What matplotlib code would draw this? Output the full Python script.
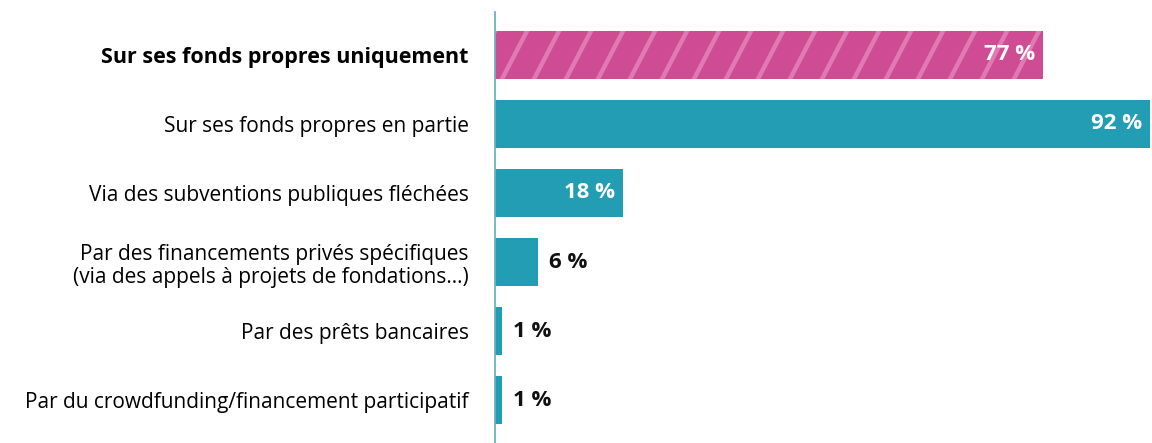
import numpy as np
import matplotlib.pyplot as plt
from matplotlib.lines import Line2D
from matplotlib.transforms import IdentityTransform

categories = [
    "Sur ses fonds propres uniquement",
    "Sur ses fonds propres en partie",
    "Via des subventions publiques fléchées",
    "Par des financements privés spécifiques\n(via des appels à projets de fondations…)",
    "Par des prêts bancaires",
    "Par du crowdfunding/financement participatif",
]
valeurs = [77, 92, 18, 6, 1, 1]

rose = "#cf4b93"
rose_clair = "#df7ab3"
bleu = "#229db3"

plt.rcParams['font.family'] = ['Open Sans', 'DejaVu Sans']

fig = plt.figure(figsize=(11.52, 4.43), dpi=100)
ax = fig.add_axes([495 / 1152, 0, 655 / 1152, 431 / 443])

y = np.arange(len(categories))
couleurs = [rose] + [bleu] * (len(categories) - 1)
barres = ax.barh(y, valeurs, height=0.7, color=couleurs, zorder=2)

ax.set_xlim(0, 92)
ax.set_ylim(len(categories) - 0.38, -0.62)

# hachures obliques sur la première barre
fig.canvas.draw()
b = barres[0]
(x0, y0), (x1, y1) = ax.transData.transform([(b.get_x(), b.get_y() + b.get_height()),
                                              (b.get_x() + b.get_width(), b.get_y())])
h = y1 - y0
for xs in np.arange(x0 + 15 - 40, x1 + 40, 32):
    ln = Line2D([xs, xs + 25 * h / 48], [y0, y1], color=rose_clair, lw=3.2, zorder=3)
    ln.set_transform(IdentityTransform())
    ax.add_line(ln)
    ln.set_clip_path(b.get_path(), b.get_transform())

# étiquettes de valeurs
for i, v in enumerate(valeurs):
    txt = f"{v} %"
    if v >= 15:
        ax.annotate(txt, (v, i), xytext=(-6, 0), textcoords='offset points',
                    ha='right', va='center', color='white',
                    fontsize=16, fontweight='bold', zorder=4)
    else:
        ax.annotate(txt, (v, i), xytext=(8, 0), textcoords='offset points',
                    ha='left', va='center', color='#111111',
                    fontsize=16, fontweight='bold', zorder=4)

ax.set_yticks(y)
ax.set_yticklabels(categories, fontsize=15, linespacing=1.15)
ax.get_yticklabels()[0].set_fontweight('bold')
ax.get_yticklabels()[0].set_fontsize(15.5)
ax.tick_params(axis='y', length=0, pad=19)
ax.set_xticks([])

for s in ['top', 'right', 'bottom']:
    ax.spines[s].set_visible(False)
ax.spines['left'].set_color('#6ab3c0')
ax.spines['left'].set_linewidth(1.3)
ax.spines['left'].set_zorder(5)

fig.savefig("out.png", dpi=100)
